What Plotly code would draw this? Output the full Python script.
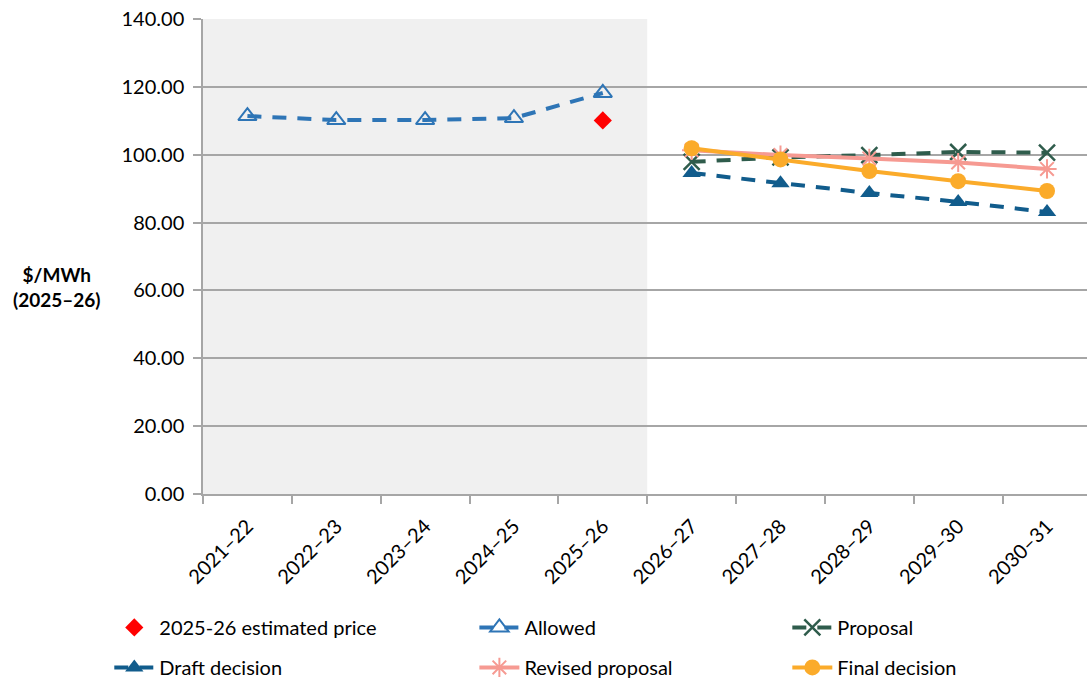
import plotly.graph_objects as go

years = ["2021–22", "2022–23", "2023–24", "2024–25", "2025–26",
         "2026–27", "2027–28", "2028–29", "2029–30", "2030–31"]
past_years = years[:5]
future_years = years[5:]

estimated_price = [110.1]
allowed = [111.4, 110.2, 110.2, 110.8, 118.2]
proposal = [97.9, 99.2, 99.9, 100.8, 100.6]
draft_decision = [94.6, 91.6, 88.7, 86.1, 83.1]
revised_proposal = [101.3, 99.9, 98.9, 97.7, 95.8]
final_decision = [101.9, 98.6, 95.2, 92.2, 89.3]

FONT = "Lato"
DASH = "14px,11px"

fig = go.Figure()

fig.add_trace(go.Scatter(
    x=["2025–26"], y=estimated_price, name="2025-26 estimated price",
    mode="markers", marker=dict(symbol="diamond", size=14, color="#ff0000"),
    legend="legend", legendgroup="a"))
fig.add_trace(go.Scatter(
    x=past_years, y=allowed, name="Allowed", mode="lines+markers",
    line=dict(color="#2e75b6", width=4, dash=DASH),
    marker=dict(symbol="triangle-up-open", size=16, color="#2e75b6",
                line=dict(width=2)),
    legend="legend2", legendgroup="c"))
fig.add_trace(go.Scatter(
    x=future_years, y=proposal, name="Proposal", mode="lines+markers",
    line=dict(color="#2f5c4c", width=4, dash=DASH),
    marker=dict(symbol="x-thin-open", size=16, color="#2f5c4c",
                line=dict(width=2.5, color="#2f5c4c")),
    legend="legend3", legendgroup="e"))
fig.add_trace(go.Scatter(
    x=future_years, y=draft_decision, name="Draft decision", mode="lines+markers",
    line=dict(color="#115c8c", width=4, dash=DASH),
    marker=dict(symbol="triangle-up", size=16, color="#115c8c"),
    legend="legend", legendgroup="b"))
fig.add_trace(go.Scatter(
    x=future_years, y=revised_proposal, name="Revised proposal", mode="lines+markers",
    line=dict(color="#f69a92", width=4),
    marker=dict(symbol="asterisk-open", size=16, color="#f69a92",
                line=dict(width=2, color="#f69a92")),
    legend="legend2", legendgroup="d"))
fig.add_trace(go.Scatter(
    x=future_years, y=final_decision, name="Final decision", mode="lines+markers",
    line=dict(color="#fbab2a", width=4),
    marker=dict(symbol="circle", size=16, color="#fbab2a"),
    legend="legend3", legendgroup="f"))

# historical period shading
fig.add_shape(type="rect", xref="x", yref="paper", x0=-0.5, x1=4.5, y0=0, y1=1,
              fillcolor="#f0f0f0", line_width=0, layer="below")

legend_common = dict(orientation="v", yref="container", yanchor="top", y=0.106,
                     xanchor="left",
                     font=dict(family=FONT, size=20, color="#000000"),
                     bgcolor="rgba(0,0,0,0)", tracegroupgap=11,
                     traceorder="grouped", itemwidth=40)

fig.update_layout(
    width=1087, height=680,
    margin=dict(l=203, r=0, t=19, b=186, autoexpand=False),
    paper_bgcolor="#ffffff", plot_bgcolor="#ffffff",
    font=dict(family=FONT, size=20, color="#000000"),
    showlegend=True,
    legend=dict(legend_common, x=-0.106),
    legend2=dict(legend_common, x=0.307),
    legend3=dict(legend_common, x=0.661),
    xaxis=dict(type="category", categoryorder="array", categoryarray=years,
               range=[-0.5, 9.45], tickangle=-45, tickson="boundaries",
               ticks="outside", ticklen=8, tickcolor="#a6a6a6", tickwidth=1.5,
               ticklabelstandoff=11, automargin=False,
               showline=True, linecolor="#a6a6a6", linewidth=1.5,
               showgrid=False, tickfont=dict(family=FONT, size=20)),
    yaxis=dict(range=[0, 140], dtick=20, tickformat=".2f",
               ticks="outside", ticklen=8, tickcolor="#a6a6a6", tickwidth=1.5,
               ticklabelstandoff=5, automargin=False,
               showline=True, linecolor="#a6a6a6", linewidth=1.5,
               showgrid=True, gridcolor="#a6a6a6", gridwidth=1.5,
               zeroline=False, tickfont=dict(family=FONT, size=20)),
    annotations=[dict(text="<b>$/MWh<br>(2025–26)</b>", xref="paper", yref="paper",
                      x=-0.165, y=0.436, xanchor="center", yanchor="middle",
                      showarrow=False, align="center",
                      font=dict(family=FONT, size=19, color="#000000"))],
)

fig.write_html("out.html")
